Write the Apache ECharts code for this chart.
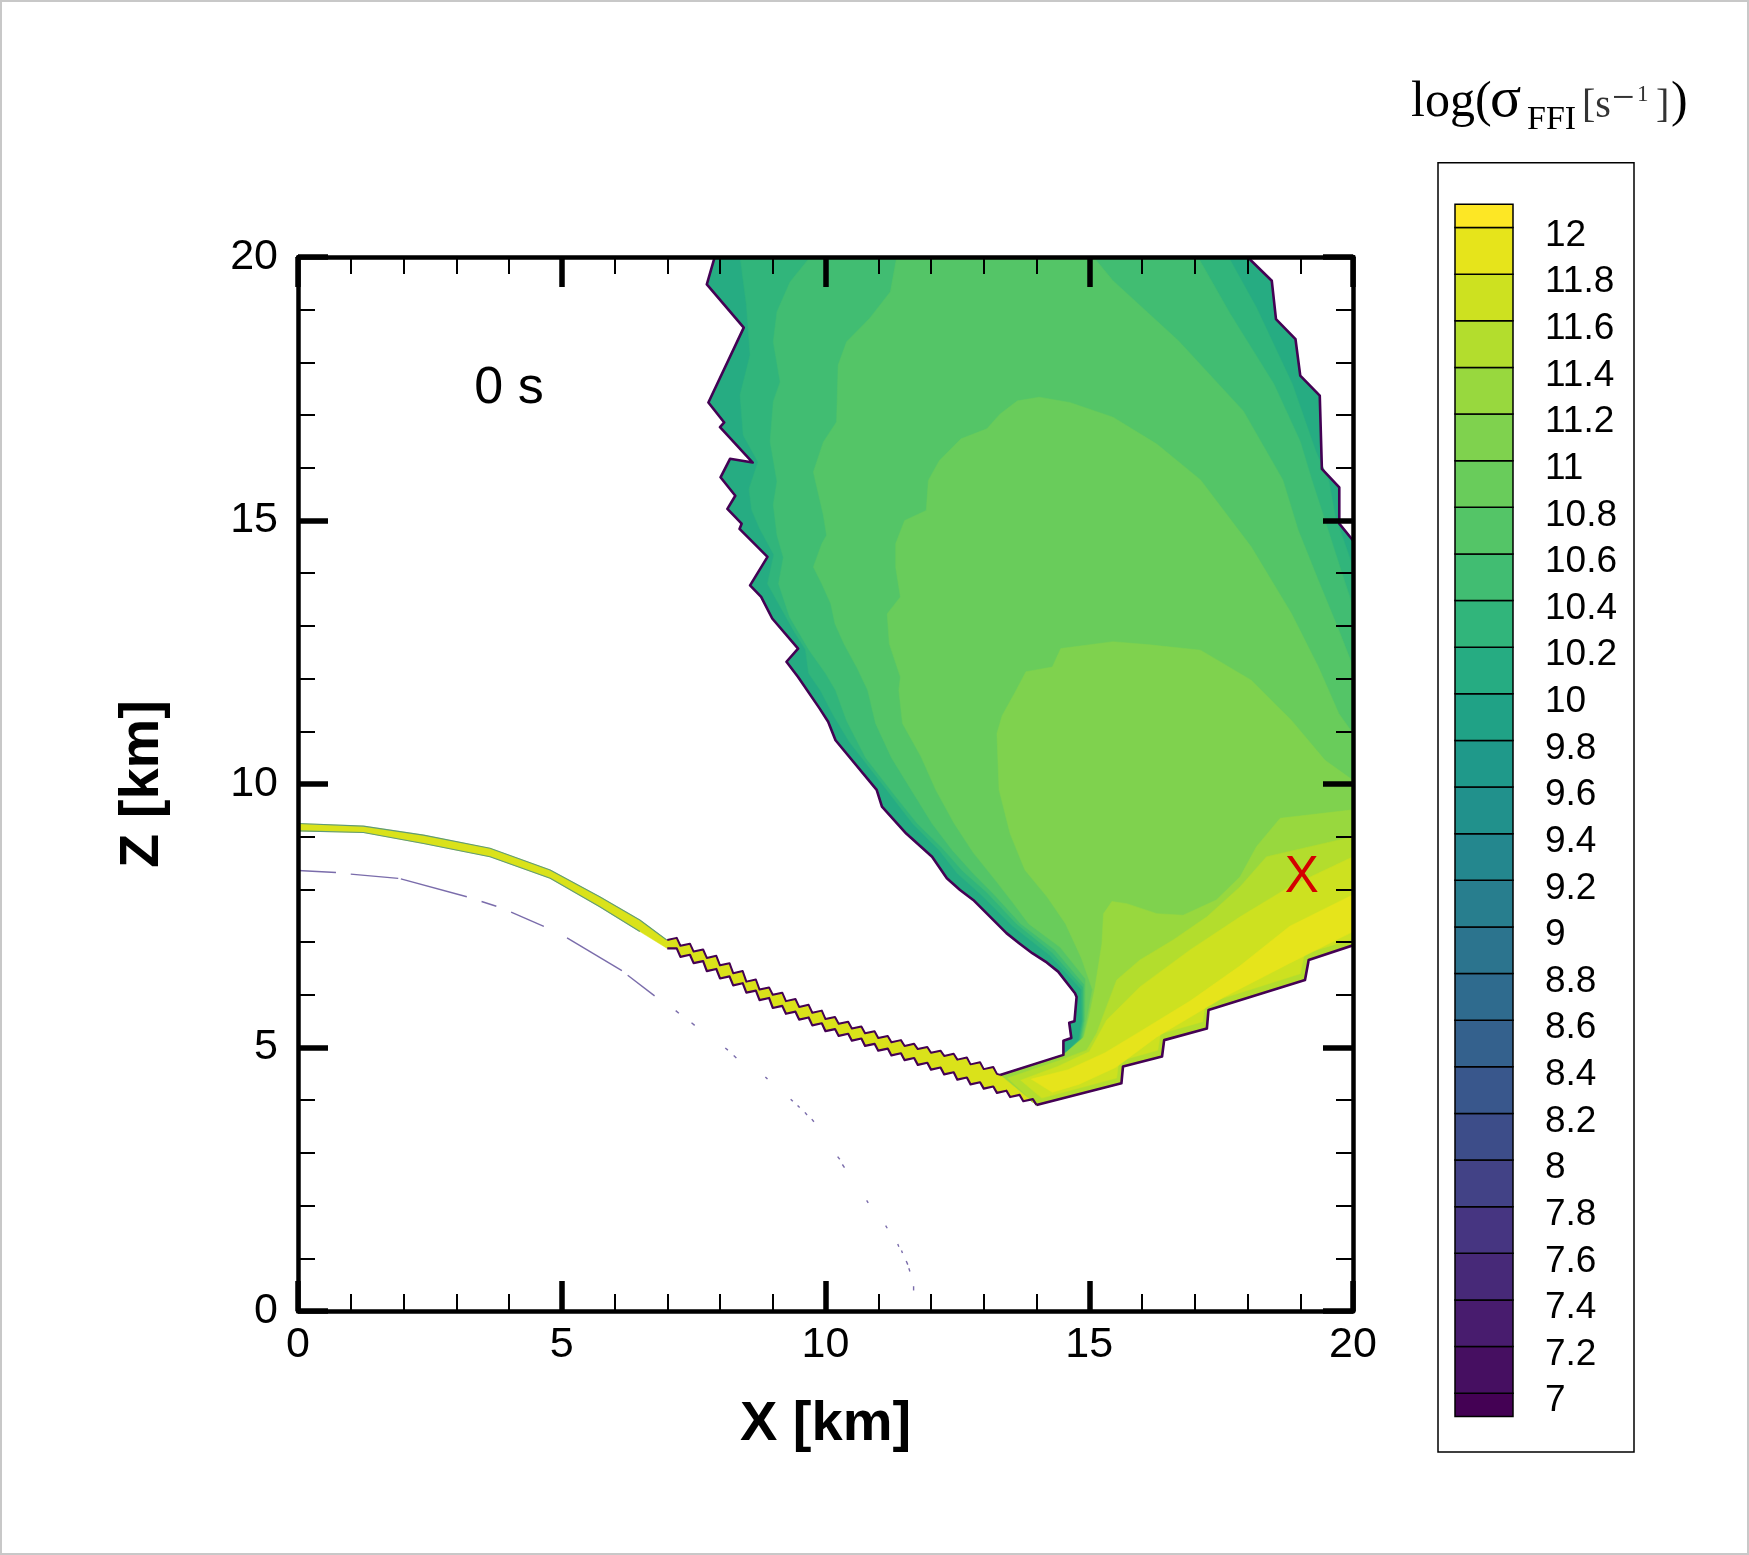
<!DOCTYPE html>
<html><head><meta charset="utf-8">
<script src="https://cdn.jsdelivr.net/npm/echarts@6/dist/echarts.min.js"></script>
<style>html,body{margin:0;padding:0;background:#fff}#c{width:1749px;height:1555px}</style>
</head><body><div id="c"></div>
<script>
// ---------------- DATA (km / log values) ----------------
const BAND_LO = [6.9,7,7.2,7.4,7.6,7.8,8,8.2,8.4,8.6,8.8,9,9.2,9.4,9.6,9.8,10,10.2,10.4,10.6,10.8,11,11.2,11.4,11.6,11.8,12];
const BAND_HI = [7,7.2,7.4,7.6,7.8,8,8.2,8.4,8.6,8.8,9,9.2,9.4,9.6,9.8,10,10.2,10.4,10.6,10.8,11,11.2,11.4,11.6,11.8,12,12.1];

const OUTER_LEFT = [[7.9,20],[7.75,19.48],[8.45,18.66],[7.78,17.24],[8.08,16.86],[8.0,16.77],[8.62,16.10],[8.19,16.17],[8.01,15.82],[8.29,15.47],[8.14,15.22],[8.41,14.94],[8.37,14.84],[8.90,14.31],[8.57,13.77],[8.78,13.55],[8.99,13.14],[9.48,12.57],[9.26,12.32],[9.48,12.03],[9.89,11.43],[10.05,11.18],[10.19,10.83],[10.97,9.89],[11.07,9.57],[11.53,9.06],[12.02,8.62],[12.3,8.21],[12.55,7.99],[12.8,7.8],[13.43,7.17],[13.67,6.98],[13.92,6.79],[14.17,6.63],[14.41,6.44],[14.73,6.03],[14.76,5.96],[14.72,5.5],[14.62,5.47],[14.66,5.18],[14.51,5.13],[14.51,4.86]];
const OUTER_RIGHT = [[18.0,20],[18.46,19.55],[18.54,18.82],[18.91,18.44],[19.0,17.75],[19.37,17.37],[19.41,15.98],[19.74,15.63],[19.74,14.94],[20,14.62]];
const B_CHAIN = [[14.0,3.91],[15.61,4.32],[15.64,4.64],[16.38,4.83],[16.42,5.14],[17.23,5.36],[17.26,5.71],[19.09,6.28],[19.16,6.66],[20,6.94]];
const NOTCH_BOTTOM = [[14.51,4.86],[13.31,4.48]];

const L17 = [[8.38,20],[8.5,19.09],[8.57,18.14],[8.38,17.38],[8.44,16.62],[8.72,16.11],[8.55,15.6],[8.6,15.2],[8.75,14.85],[9.02,14.35],[8.9,13.8],[9.15,13.35],[9.4,12.9],[9.62,12.55],[9.68,12.1],[9.9,11.78],[10.15,11.3],[10.45,10.8],[11.15,9.9],[11.65,9.25],[12.15,8.75],[12.5,8.3],[12.95,7.9],[13.55,7.3],[14.25,6.75],[14.85,6.1],[14.86,5.5],[14.8,5.15]];
const R17 = [[17.64,20],[18.17,19.04],[18.85,17.59],[19.3,16.3],[19.54,15.77],[19.66,15.1],[20,14.12]];
const L18 = [[9.71,20],[9.33,19.53],[9.08,18.96],[9.01,18.39],[9.14,17.63],[9.01,17.26],[8.95,16.5],[9.08,15.74],[9.01,15.3],[9.08,14.72],[9.2,14.3],[9.11,13.8],[9.32,13.17],[9.69,12.54],[10.0,12.1],[10.19,11.78],[10.4,11.2],[10.76,10.5],[11.3,9.8],[11.74,9.25],[12.2,8.8],[12.6,8.35],[13.05,7.95],[13.62,7.35],[14.3,6.8],[14.88,6.15],[14.88,5.5],[14.82,5.15]];
const R18 = [[17.06,20],[17.68,18.91],[18.5,17.59],[19.0,16.5],[19.22,15.77],[19.47,15.0],[19.73,14.19],[20,13.37]];
const L19 = [[11.35,20],[11.23,19.34],[10.84,18.84],[10.40,18.39],[10.24,17.95],[10.21,16.87],[9.96,16.49],[9.77,15.92],[9.96,15.1],[10.02,14.72],[9.93,14.56],[9.77,14.12],[9.93,13.8],[10.1,13.42],[10.18,13.04],[10.35,12.66],[10.6,12.2],[10.8,11.78],[10.95,11.15],[11.25,10.5],[11.65,9.85],[12.02,9.25],[12.4,8.75],[12.8,8.3],[13.2,7.9],[13.7,7.35],[14.35,6.85],[14.9,6.2],[14.9,5.5],[14.84,5.15]];
const R19 = [[15.08,20],[15.45,19.55],[16.69,18.41],[17.92,17.08],[18.67,15.77],[18.96,14.82],[19.34,13.87],[19.73,12.92],[20,12.23]];
const L20 = [[14.05,17.34],[13.64,17.27],[13.31,17.02],[13.06,16.74],[12.57,16.55],[12.16,16.14],[11.95,15.76],[11.91,15.19],[11.5,15.0],[11.33,14.56],[11.33,14.12],[11.42,13.55],[11.17,13.23],[11.21,12.66],[11.42,12.03],[11.39,11.78],[11.46,11.15],[11.81,10.52],[12.09,9.89],[12.44,9.25],[12.8,8.7],[13.2,8.2],[13.55,7.75],[13.85,7.35],[14.45,6.9],[14.93,6.3],[14.92,5.5],[14.86,5.15]];
const R20 = [[14.05,17.34],[14.63,17.24],[15.45,16.96],[16.28,16.45],[17.11,15.77],[18.07,14.5],[18.83,13.24],[19.34,12.23],[19.73,11.34],[20,10.96]];
const L21 = [[14.46,12.57],[14.3,12.22],[13.8,12.13],[13.6,11.75],[13.35,11.3],[13.25,10.96],[13.29,9.89],[13.5,9.06],[13.78,8.37],[14.2,7.86],[14.55,7.35],[14.85,6.7],[15.06,6.1],[14.95,5.5],[14.88,5.15]];
const R21 = [[14.46,12.57],[15.45,12.7],[16.15,12.64],[17.11,12.54],[18.07,11.97],[18.83,11.21],[19.47,10.45],[20,10.07]];
const P22_TOP = [[20,9.51],[18.62,9.35],[18.17,8.81],[17.86,8.24],[17.41,7.8],[16.78,7.51],[16.28,7.54],[15.71,7.73],[15.43,7.77],[15.27,7.54],[15.24,6.97],[15.11,6.15],[15.0,5.6],[14.9,5.2]];
const P23_TOP = [[20,9.0],[18.36,8.62],[17.86,8.05],[17.23,7.48],[16.59,7.04],[15.96,6.66],[15.52,6.28],[15.33,5.78],[15.14,5.27],[14.95,4.95],[14.45,4.76],[13.45,4.42]];
const P24_TOP = [[20,8.62],[18.8,8.05],[17.86,7.48],[16.91,6.85],[15.96,6.15],[15.33,5.52],[15.0,4.92],[14.4,4.64],[13.7,4.38]];
const P24_BOTTOM = [[14.1,4.04],[15.52,4.42],[15.56,4.74],[16.3,4.95],[16.35,5.26],[17.15,5.49],[17.2,5.83],[19.0,6.4],[19.08,6.78],[20,7.06]];
const P25_TOP = [[13.9,4.4],[14.6,4.58],[15.3,4.9],[15.96,5.3],[16.91,5.88],[17.86,6.55],[18.8,7.3],[20,7.9]];
const P25_BOTTOM = [[20,7.2],[18.8,6.6],[17.54,5.95],[16.28,5.2],[15.5,4.62],[14.8,4.3],[14.3,4.15]];

const STRIP_TOP_SMOOTH = [[0,9.25],[1.24,9.2],[2.38,9.03],[3.64,8.78],[4.78,8.37],[5.72,7.86],[6.48,7.42],[6.99,7.04]];
const STRIP_TOP_STEPS = [[7.0,7.04],[7.18,7.08],[7.25,6.93],[7.43,6.97],[7.5,6.82],[7.68,6.86],[7.75,6.7],[7.93,6.74],[8.0,6.56],[8.18,6.6],[8.25,6.41],[8.43,6.45],[8.5,6.25],[8.68,6.29],[8.75,6.1],[8.93,6.14],[9.0,6.0],[9.18,6.04],[9.25,5.88],[9.43,5.92],[9.5,5.77],[9.68,5.81],[9.75,5.66],[9.93,5.7],[10.0,5.54],[10.18,5.58],[10.25,5.45],[10.43,5.49],[10.5,5.36],[10.68,5.4],[10.75,5.27],[10.93,5.31],[11.0,5.18],[11.18,5.22],[11.25,5.1],[11.43,5.14],[11.5,5.03],[11.68,5.07],[11.75,4.97],[11.93,5.01],[12.0,4.9],[12.18,4.94],[12.25,4.84],[12.43,4.88],[12.5,4.77],[12.68,4.81],[12.75,4.68],[12.93,4.72],[13.0,4.59],[13.18,4.63],[13.25,4.5],[13.31,4.48]];
const STRIP_BOTTOM_STEPS = [[14.0,3.91],[13.93,4.02],[13.75,3.98],[13.68,4.1],[13.5,4.06],[13.43,4.18],[13.25,4.14],[13.18,4.26],[13.0,4.22],[12.93,4.34],[12.75,4.3],[12.68,4.43],[12.5,4.39],[12.43,4.53],[12.25,4.49],[12.18,4.62],[12.0,4.58],[11.93,4.71],[11.75,4.67],[11.68,4.8],[11.5,4.76],[11.43,4.89],[11.25,4.85],[11.18,4.98],[11.0,4.94],[10.93,5.07],[10.75,5.03],[10.68,5.17],[10.5,5.13],[10.43,5.26],[10.25,5.22],[10.18,5.35],[10.0,5.31],[9.93,5.46],[9.75,5.42],[9.68,5.57],[9.5,5.53],[9.43,5.68],[9.25,5.64],[9.18,5.79],[9.0,5.75],[8.93,5.94],[8.75,5.9],[8.68,6.08],[8.5,6.04],[8.43,6.22],[8.25,6.18],[8.18,6.35],[8.0,6.31],[7.93,6.49],[7.75,6.45],[7.68,6.64],[7.5,6.6],[7.43,6.76],[7.25,6.72],[7.18,6.88],[7.0,6.88]];
const STRIP_BOTTOM_SMOOTH = [[6.48,7.2],[5.72,7.67],[4.78,8.21],[3.64,8.62],[2.38,8.87],[1.24,9.08],[0,9.11]];

const DASH_SEGMENTS = [
 [[0,8.36],[0.72,8.32]],[[1.0,8.29],[1.9,8.21]],[[1.95,8.2],[3.2,7.86]],[[3.48,7.77],[3.76,7.68]],
 [[4.04,7.57],[4.66,7.3]],[[5.1,7.08],[6.14,6.46]],[[6.25,6.37],[6.76,5.98]],
 [[7.16,5.70],[7.22,5.65]],[[7.46,5.47],[7.52,5.42]],[[8.1,4.99],[8.15,4.95]],[[8.26,4.85],[8.31,4.8]],
 [[8.86,4.44],[8.9,4.40]],[[9.34,4.02],[9.38,3.98]],[[9.47,3.9],[9.51,3.86]],[[9.61,3.77],[9.65,3.72]],
 [[9.74,3.64],[9.78,3.59]],[[10.23,2.93],[10.27,2.88]],[[10.32,2.78],[10.36,2.72]],[[10.78,2.1],[10.81,2.05]],
 [[11.14,1.62],[11.17,1.57]],[[11.37,1.27],[11.39,1.22]],[[11.44,1.15],[11.46,1.1]],[[11.53,0.95],[11.56,0.88]],
 [[11.58,0.81],[11.6,0.75]],[[11.67,0.47],[11.67,0.39]]
];
const MARKER = [[19.03,8.22]];

// ---------------- colour map ----------------
const VIRIDIS = ['#440154','#471365','#482475','#463480','#414487','#3b528b','#355f8d','#2f6c8e','#2a788e','#25848e','#21918c','#1e9c89','#22a884','#2fb47c','#44bf70','#5ec962','#7ad151','#9bd93c','#bddf26','#dfe318','#fde725'];
function hx(h){return [parseInt(h.slice(1,3),16),parseInt(h.slice(3,5),16),parseInt(h.slice(5,7),16)];}
function viridis(t){t=Math.max(0,Math.min(1,t));const n=VIRIDIS.length-1;const f=t*n;const i=Math.min(n-1,Math.floor(f));const u=f-i;const a=hx(VIRIDIS[i]),b=hx(VIRIDIS[i+1]);return 'rgb('+a.map((v,j)=>Math.round(v+(b[j]-v)*u)).join(',')+')';}
const NB = BAND_LO.length;
function bandColor(k){return viridis(k/(NB-1));}

// ---------------- assemble shapes ----------------
const JUNCTION_BOTTOM = NOTCH_BOTTOM.concat(B_CHAIN);
const rev = a => a.slice().reverse();
const FILLS = [
 {pts: OUTER_LEFT.concat(JUNCTION_BOTTOM.slice(1), rev(OUTER_RIGHT)), band:16},
 {pts: L17.concat(JUNCTION_BOTTOM, rev(R17)), band:17},
 {pts: L18.concat(JUNCTION_BOTTOM, rev(R18)), band:18},
 {pts: L19.concat(JUNCTION_BOTTOM, rev(R19)), band:19},
 {pts: L20.concat(JUNCTION_BOTTOM, rev(R20)), band:20},
 {pts: L21.concat(JUNCTION_BOTTOM, rev(R21)), band:21},
 {pts: P22_TOP.concat(JUNCTION_BOTTOM), band:22},
 {pts: P23_TOP.concat(B_CHAIN), band:23},
 {pts: P24_TOP.concat(P24_BOTTOM), band:24},
 {pts: P25_TOP.concat(P25_BOTTOM), band:25},
 {pts: STRIP_TOP_SMOOTH.concat(STRIP_TOP_STEPS, STRIP_BOTTOM_STEPS, STRIP_BOTTOM_SMOOTH), band:24.5}
];
const SHAPES = FILLS.map(f => ({pts:f.pts, fill:bandColor(f.band)}));
DASH_SEGMENTS.forEach(s => SHAPES.push({pts:s, stroke:'#7a6cab', width:1.4}));
SHAPES.push({pts:STRIP_TOP_SMOOTH, stroke:'#5f9a78', width:1.1});
SHAPES.push({pts:STRIP_BOTTOM_SMOOTH, stroke:'#5f9a78', width:1.1});
SHAPES.push({pts:STRIP_TOP_STEPS, stroke:'#440154', width:2});
SHAPES.push({pts:STRIP_BOTTOM_STEPS, stroke:'#440154', width:2.2});
SHAPES.push({pts:OUTER_LEFT.concat([NOTCH_BOTTOM[1]]), stroke:'#440154', width:2.6});
SHAPES.push({pts:OUTER_RIGHT, stroke:'#440154', width:2.6});
SHAPES.push({pts:B_CHAIN, stroke:'#440154', width:2.6});

const FONT = 'Liberation Sans, Arial, sans-serif';
const SERIF = 'Liberation Serif, Times New Roman, serif';

function mainAxis(pos, labels, extra){
  return Object.assign({
    gridIndex:0, type:'value', min:0, max:20, interval:5, position:pos, z:10,
    axisLine:{show:true, onZero:false, lineStyle:{color:'#000', width:4.5}},
    axisTick:{show:true, inside:true, length:30, lineStyle:{color:'#000', width:5.5}},
    minorTick:{show:true, splitNumber:5, length:17, lineStyle:{color:'#000', width:2}},
    splitLine:{show:false}, minorSplitLine:{show:false},
    axisLabel:{show:labels, fontSize:43, color:'#000', fontFamily:FONT, showMinLabel:true, showMaxLabel:true, hideOverlap:false}
  }, extra||{});
}

const option = {
  backgroundColor:'#ffffff',
  animation:false,
  grid:[{left:298, top:257, width:1055, height:1054},{left:1455, top:181, width:58, height:1258.8}],
  xAxis:[
    mainAxis('bottom', true, {name:'X [km]', nameLocation:'middle', nameGap:86, nameMoveOverlap:false,
      nameTextStyle:{fontSize:56, fontWeight:'bold', fontFamily:FONT, color:'#000'},
      axisLabel:{show:true, fontSize:43, color:'#000', fontFamily:FONT, margin:13, showMinLabel:true, showMaxLabel:true, hideOverlap:false}}),
    mainAxis('top', false),
    {gridIndex:1, type:'value', min:0, max:1, show:false}
  ],
  yAxis:[
    mainAxis('left', true, {name:'Z [km]', nameLocation:'middle', nameGap:127, nameRotate:90, nameMoveOverlap:false,
      nameTextStyle:{fontSize:56, fontWeight:'bold', fontFamily:FONT, color:'#000'},
      axisLabel:{show:true, fontSize:43, color:'#000', fontFamily:FONT, margin:20, showMinLabel:true, showMaxLabel:true, hideOverlap:false}}),
    mainAxis('right', false),
    {gridIndex:1, type:'value', min:6.8, max:12.2, interval:0.2, position:'right',
      axisLine:{show:false}, axisTick:{show:false}, splitLine:{show:false},
      axisLabel:{show:true, margin:32, hideOverlap:false, showMinLabel:true, showMaxLabel:true,
        formatter: v => (v < 6.95 || v > 12.05) ? '' : '{a|' + String(parseFloat(Number(v).toFixed(1))) + '}',
        rich:{a:{fontSize:37, color:'#000', fontFamily:FONT, lineHeight:53, verticalAlign:'bottom'}}}}
  ],
  series:[
    {type:'custom', xAxisIndex:0, yAxisIndex:0, clip:true, silent:true, z:2,
     data: SHAPES.map((s,i)=>[s.pts[0][0], s.pts[0][1], i]), encode:{x:0, y:1},
     renderItem:(params, api)=>{
       const s = SHAPES[api.value(2)];
       const pts = s.pts.map(p=>api.coord(p));
       if (s.fill) return {type:'polygon', shape:{points:pts}, style:{fill:s.fill, stroke:s.fill, lineWidth:0.5}};
       return {type:'polyline', shape:{points:pts}, style:{fill:null, stroke:s.stroke, lineWidth:s.width, lineJoin:'round', lineCap:'butt'}};
     }},
    {type:'custom', xAxisIndex:0, yAxisIndex:0, clip:false, silent:true, z:5,
     data: MARKER, encode:{x:0, y:1},
     renderItem:(params, api)=>{
       const p = api.coord([api.value(0), api.value(1)]);
       return {type:'text', x:p[0], y:p[1], style:{text:'X', fill:'#d40000', font:'51px '+FONT, align:'center', verticalAlign:'middle'}};
     }},
    {type:'custom', xAxisIndex:2, yAxisIndex:2, clip:false, silent:true, z:3,
     data: BAND_LO.map((lo,i)=>[0, lo, BAND_HI[i], i]), encode:{x:0, y:1},
     renderItem:(params, api)=>{
       const a = api.coord([0, api.value(2)]);
       const b = api.coord([1, api.value(1)]);
       return {type:'rect', shape:{x:a[0], y:a[1], width:b[0]-a[0], height:b[1]-a[1]},
               style:{fill:bandColor(api.value(3)), stroke:'#000', lineWidth:1.5}};
     }}
  ],
  graphic:[
    {type:'rect', z:100, silent:true, shape:{x:1, y:1, width:1747, height:1553}, style:{fill:'none', stroke:'#c8c8c8', lineWidth:2}},
    {type:'rect', z:100, silent:true, shape:{x:1438, y:162.7, width:196, height:1289.3}, style:{fill:'none', stroke:'#000', lineWidth:1.5}},
    {type:'text', z:100, silent:true, x:509, y:389, style:{text:'0 s', font:'52px '+FONT, fill:'#000', align:'center', verticalAlign:'middle'}},
    {type:'text', z:100, silent:true, x:1411, y:103, style:{text:'log(', font:'50px '+SERIF, fill:'#000', align:'left', verticalAlign:'middle'}},
    {type:'text', z:100, silent:true, x:1490, y:101, style:{text:'σ', font:'58px '+SERIF, fill:'#000', align:'left', verticalAlign:'middle'}},
    {type:'text', z:100, silent:true, x:1527, y:120, style:{text:'FFI', font:'34px '+SERIF, fill:'#000', align:'left', verticalAlign:'middle'}},
    {type:'text', z:100, silent:true, x:1582, y:106, style:{text:'[s', font:'40px '+SERIF, fill:'#333', align:'left', verticalAlign:'middle'}},
    {type:'text', z:100, silent:true, x:1612, y:99, style:{text:'−', font:'40px '+SERIF, fill:'#333', align:'left', verticalAlign:'middle'}},
    {type:'text', z:100, silent:true, x:1637, y:95, style:{text:'1', font:'23px '+SERIF, fill:'#333', align:'left', verticalAlign:'middle'}},
    {type:'text', z:100, silent:true, x:1656, y:106, style:{text:']', font:'40px '+SERIF, fill:'#333', align:'left', verticalAlign:'middle'}},
    {type:'text', z:100, silent:true, x:1671, y:103, style:{text:')', font:'50px '+SERIF, fill:'#000', align:'left', verticalAlign:'middle'}}
  ]
};
const chart = echarts.init(document.getElementById('c'), null, {renderer:'canvas'});
chart.setOption(option);
</script>
</body></html>
